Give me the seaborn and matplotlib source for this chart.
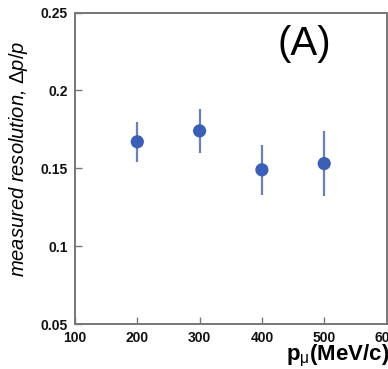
import matplotlib
matplotlib.use("Agg")
import matplotlib.pyplot as plt
import seaborn as sns
import pandas as pd
import numpy as np

momentum = [200, 300, 400, 500]
resolution = [0.167, 0.174, 0.149, 0.153]
err_low = [0.154, 0.160, 0.133, 0.132]
err_high = [0.180, 0.188, 0.165, 0.174]
xticks = [100, 200, 300, 400, 500, 600]
yticks = [0.05, 0.1, 0.15, 0.2, 0.25]
ytick_labels = ["0.05", "0.1", "0.15", "0.2", "0.25"]

sns.set_style("ticks")
plt.rcParams["font.family"] = ["Liberation Sans", "DejaVu Sans"]
plt.rcParams["mathtext.fontset"] = "custom"
plt.rcParams["mathtext.rm"] = "Liberation Sans"
plt.rcParams["mathtext.bf"] = "Liberation Sans:bold"
plt.rcParams["mathtext.it"] = "Liberation Sans:italic"
plt.rcParams["text.color"] = "black"
plt.rcParams["axes.labelcolor"] = "black"

df = pd.DataFrame({"p": momentum, "res": resolution})

fig = plt.figure(figsize=(3.88, 3.69), dpi=100)
ax = fig.add_axes([75 / 388, 45 / 369, 311.5 / 388, 311.5 / 369])

yerr = np.array([np.array(resolution) - np.array(err_low),
                 np.array(err_high) - np.array(resolution)])
ax.errorbar(momentum, resolution, yerr=yerr, fmt="none", ecolor="#6b7fb8",
            elinewidth=1.6, capsize=0, zorder=2)
sns.scatterplot(data=df, x="p", y="res", ax=ax, s=90, color="#3a5fb8",
                edgecolor="none", zorder=3, legend=False)

ax.set_xlim(100, 600)
ax.set_ylim(0.05, 0.25)
ax.set_xticks(xticks)
ax.set_xticklabels([str(t) for t in xticks], fontweight="bold", fontsize=10)
ax.set_yticks(yticks)
ax.set_yticklabels(ytick_labels, fontweight="bold", fontsize=10)
ax.tick_params(direction="in", length=5, width=1, color="#777777",
               labelcolor="#111111", pad=5)

for s in ax.spines.values():
    s.set_color("#777777")
    s.set_linewidth(1.4)
    s.set_visible(True)

ax.set_xlabel(r"$\mathbf{p}_{\mathrm{\mu}}\mathbf{(MeV/c)}$", fontsize=16,
              loc="right")
ax.xaxis.set_label_coords(1.01, -0.06)
ax.set_ylabel(r"measured resolution, $\Delta p/p$", fontsize=14.5,
              fontstyle="italic")
ax.yaxis.set_label_coords(-0.145, 0.53)
ax.text(0.735, 0.90, "(A)", transform=ax.transAxes, fontsize=29,
        ha="center", va="center")

fig.savefig("out.png", dpi=100)
